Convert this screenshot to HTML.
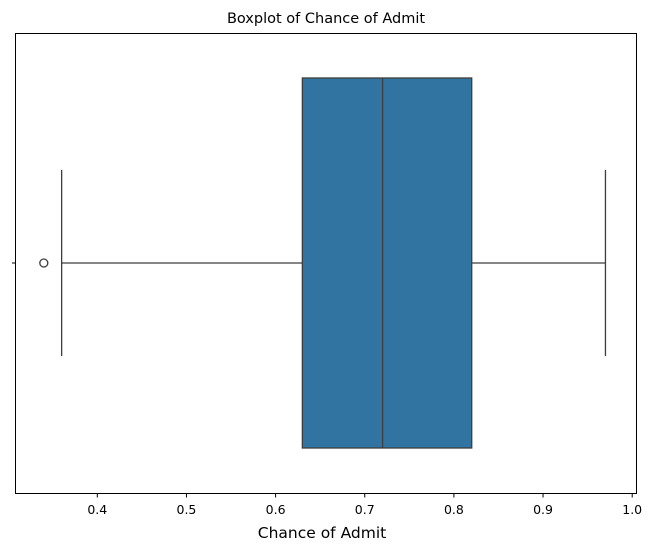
<!DOCTYPE html>
<html><head><meta charset="utf-8"><style>body{margin:0;background:#fff}svg{display:block;font-family:"DejaVu Sans","Liberation Sans",sans-serif}</style></head>
<body>
<svg id="c" width="654" height="551" xmlns="http://www.w3.org/2000/svg">
<text x="326" y="23" text-anchor="middle" font-size="14.5">Boxplot of Chance of Admit</text>
<text x="322" y="538" text-anchor="middle" font-size="15.5">Chance of Admit</text>
<g id="plot"></g>
<rect x="15.5" y="33.5" width="621" height="460" fill="none" stroke="#000" stroke-width="1"/>
</svg>
<script>
const xTicks=[0.4,0.5,0.6,0.7,0.8,0.9,1.0];
const tickLabels=["0.4","0.5","0.6","0.7","0.8","0.9","1.0"];
const stats=[0.36,0.63,0.72,0.82,0.97];
const outliers=[0.34];
const NS="http://www.w3.org/2000/svg";
const g=document.getElementById('plot');
const X=v=>97.3+(v-0.4)*891.5;
function mk(t,a){const e=document.createElementNS(NS,t);for(const k in a)e.setAttribute(k,a[k]);g.appendChild(e);return e;}
xTicks.forEach((v,i)=>{
 const t=mk('line',{x1:X(v),x2:X(v),y1:494,y2:497.5,stroke:'#000'});
 
 
 const l=mk('text',{x:X(v),y:514,'text-anchor':'middle','font-size':'12.5'});
 l.textContent=tickLabels[i];
 
 
});
const yt=mk('line',{x1:12,x2:15.5,y1:263,y2:263,stroke:'#000'});


const cy=263,bt=78,bb=448,wt=170,wb=356,c='#3d3d3d';
const w1=mk('line',{x1:X(stats[0]),x2:X(stats[1]),y1:cy,y2:cy,stroke:c,'stroke-width':1.3});


const w2=mk('line',{x1:X(stats[3]),x2:X(stats[4]),y1:cy,y2:cy,stroke:c,'stroke-width':1.3});


const c1=mk('line',{x1:X(stats[0]),x2:X(stats[0]),y1:wt,y2:wb,stroke:c,'stroke-width':1.3});


const c2=mk('line',{x1:X(stats[4]),x2:X(stats[4]),y1:wt,y2:wb,stroke:c,'stroke-width':1.3});


const box=mk('rect',{x:X(stats[1]),y:bt,width:X(stats[3])-X(stats[1]),height:bb-bt,fill:'#3274a1',stroke:c,'stroke-width':1.3});


const med=mk('line',{x1:X(stats[2]),x2:X(stats[2]),y1:bt,y2:bb,stroke:c,'stroke-width':1.3});


outliers.forEach(v=>{
 const o=mk('circle',{cx:X(v),cy:cy,r:4,fill:'none',stroke:c,'stroke-width':1.3});
 
 
});
</script>
</body></html>
